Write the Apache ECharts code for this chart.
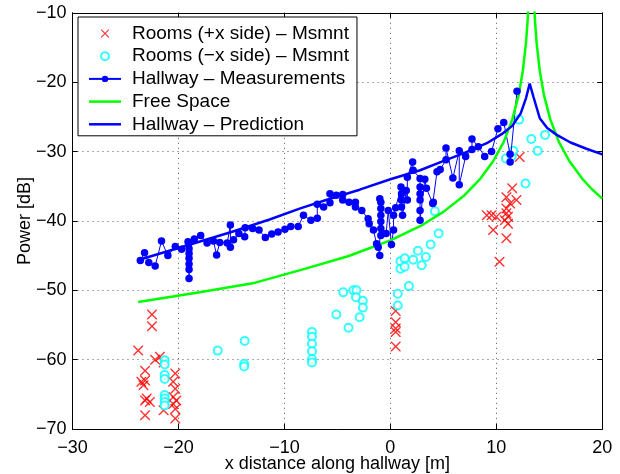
<!DOCTYPE html>
<html>
<head>
<meta charset="utf-8">
<script src="https://cdn.jsdelivr.net/npm/echarts@6/dist/echarts.min.js"></script>
<style>
    html, body { margin: 0; padding: 0; background: #fff; }
    #chart { width: 620px; height: 474px; }
</style>
</head>
<body>
<div id="chart"></div>
<script>
    // data
    const roomsPlus = [
        [-22.5, -53.5], [-22.5, -55.2], [-23.8, -58.7], [-22.2, -60.0], [-21.75, -59.6], [-21.4, -60.4],
        [-23.15, -61.6], [-23.5, -63.2], [-23.15, -63.0], [-23.3, -63.7], [-23.0, -65.6], [-23.15, -65.9],
        [-22.7, -66.1], [-23.15, -68.0], [-20.3, -62.0], [-20.5, -63.2], [-20.3, -64.2], [-20.5, -65.4],
        [-20.2, -65.9], [-20.5, -66.4], [-20.3, -67.1], [-21.4, -67.3], [-20.3, -68.5],
        [0.5, -53.0], [0.5, -54.6], [0.5, -55.5], [0.5, -56.0], [0.5, -58.1],
        [12.2, -30.8], [11.5, -35.3], [10.95, -36.6], [11.9, -37.0], [11.3, -37.5], [10.95, -38.2],
        [9.1, -39.2], [9.55, -39.2], [10.0, -39.4], [10.95, -38.9], [11.1, -39.4], [10.8, -39.9],
        [11.1, -40.4], [9.7, -41.3], [10.95, -42.5], [10.3, -45.9]
    ]

    const roomsMinus = [
        [-21.3, -60.1], [-21.3, -60.7], [-21.3, -62.2], [-21.3, -62.8], [-21.3, -65.1], [-21.3, -65.6],
        [-21.3, -66.1], [-21.3, -66.6], [-16.3, -58.7], [-13.75, -57.3], [-13.8, -60.6], [-13.8, -61.0],
        [-7.4, -56.0], [-7.4, -56.7], [-7.4, -57.7], [-7.4, -58.8], [-7.4, -59.9], [-7.4, -60.4],
        [-5.1, -53.5], [-4.45, -50.3], [-3.95, -55.4], [-3.5, -50.0], [-3.2, -50.0], [-3.25, -51.0],
        [-2.6, -51.5], [-2.6, -52.5], [-2.9, -53.9], [0.7, -50.5], [0.7, -52.2], [1.75, -49.4],
        [0.95, -45.8], [0.95, -46.9], [1.35, -45.4], [1.35, -46.6], [2.15, -45.6], [2.6, -44.3],
        [2.95, -46.4], [3.35, -45.2], [3.8, -43.4], [4.55, -41.8], [4.2, -38.6],
        [10.9, -31.0], [11.45, -30.7], [11.6, -29.9], [12.15, -25.4], [12.75, -34.6], [13.3, -28.2],
        [13.9, -29.9], [14.6, -27.6]
    ]

    const hallwayMeas = [
        [-23.6, -45.7], [-23.2, -44.6], [-22.8, -46.0], [-22.2, -46.5], [-21.6, -42.9], [-21.0, -45.0],
        [-20.3, -43.7], [-19.7, -44.1], [-19.1, -43.0], [-19.0, -44.0], [-19.0, -44.7], [-19.0, -45.4],
        [-19.0, -46.2], [-19.0, -47.0], [-19.0, -48.3], [-19.0, -43.2], [-18.5, -42.6], [-17.9, -42.1],
        [-17.3, -43.2], [-16.7, -42.9], [-16.4, -44.9], [-16.1, -43.1], [-15.4, -43.2], [-15.1, -40.6],
        [-15.1, -43.8], [-14.8, -42.7], [-14.3, -41.8], [-13.75, -42.3], [-13.7, -41.0], [-13.0, -41.1],
        [-12.4, -41.3], [-11.8, -42.4], [-11.2, -41.9], [-10.6, -41.6], [-9.95, -41.2], [-9.4, -40.8],
        [-8.7, -40.8], [-8.2, -39.2], [-7.5, -39.9], [-6.9, -39.6], [-6.9, -37.6], [-6.3, -38.0],
        [-5.7, -37.4], [-5.7, -36.1], [-5.1, -36.3], [-4.5, -36.2], [-4.5, -37.0], [-3.9, -37.3],
        [-3.3, -37.3], [-3.3, -38.0], [-2.7, -38.5], [-2.1, -39.7], [-2.0, -40.4], [-1.6, -41.3],
        [-1.3, -43.3], [-1.15, -43.8], [-1.0, -45.0], [-1.0, -36.8], [-0.9, -37.3], [-0.9, -38.2],
        [-0.9, -39.2], [-0.9, -40.1], [-0.9, -41.1], [-0.9, -42.1], [-0.4, -41.8], [-0.2, -38.5],
        [0.1, -43.4], [0.3, -41.3], [0.3, -39.2], [0.5, -38.1], [1.0, -35.1], [1.05, -36.1],
        [1.05, -37.0], [1.05, -38.0], [1.15, -39.2], [1.5, -35.6], [1.6, -37.0], [1.6, -33.7],
        [2.1, -31.5], [2.15, -32.7], [2.8, -33.9], [2.8, -35.1], [2.8, -36.1], [2.8, -37.0],
        [2.8, -38.5], [2.8, -39.9], [3.25, -34.0], [3.4, -35.3], [4.0, -37.5], [4.05, -37.3],
        [4.4, -32.9], [4.7, -32.6], [5.25, -31.2], [5.25, -29.5], [5.9, -33.8], [6.5, -29.9],
        [6.5, -34.8], [7.1, -30.7], [7.7, -29.7], [7.7, -28.2], [8.3, -29.3], [8.9, -30.7],
        [9.55, -30.0], [10.15, -26.7], [10.7, -25.8], [11.3, -30.4], [11.3, -31.5], [11.95, -21.3]
    ]

    const freeSpaceX = [-23.8, -18, -13, -8.5, -4, 0, 3, 5, 7, 8.5, 9.7, 10.7, 11.5, 12.1, 12.5, 12.8, 12.95, 13.05,
        13.55, 13.65, 13.8, 14.1, 14.5, 15.1, 15.9, 16.9, 18.1, 19.0, 20]
    const freeSpaceY = [-51.7, -50.3, -49.0, -47.1, -45.1, -42.8, -40.6, -38.7, -36.3, -33.9, -31.4, -28.6, -25.4, -21.9, -18.4, -14.3, -11.2, -8.3,
        -8.3, -11.2, -14.3, -18.4, -21.9, -25.4, -28.6, -31.4, -33.9, -35.4, -36.8]

    const predX = [-23.7, -20, -15, -11.4, -8.5, -5.7, -2.9, 0, 2.8, 5.1, 7, 9.1, 10.5, 11.5, 12.3, 12.8, 13.15,
        13.5, 14.1, 14.8, 15.7, 17, 18.5, 20]
    const predY = [-45.6, -43.9, -41.6, -39.8, -38.2, -36.8, -35.5, -34.0, -32.7, -31.3, -30.2, -28.8, -27.5, -26.3, -24.5, -22.3, -20.2,
        -22.1, -25.2, -26.6, -27.6, -28.7, -29.6, -30.4]

    const seriesNames = [
        'Rooms (+x side) \u2013 Msmnt',
        'Rooms (\u2212x side) \u2013 Msmnt',
        'Hallway \u2013 Measurements',
        'Free Space',
        'Hallway \u2013 Prediction'
    ]

    const xTicks = { min: -30, max: 20, interval: 10 }
    const yTicks = { min: -70, max: -10, interval: 10 }

    const zip = (xs, ys) => xs.map((x, i) => [x, ys[i]])
    const minus = v => String(v).replace('-', '\u2212')
    const font = 'Liberation Sans, Arial, Helvetica, sans-serif'
    const crossPath = 'path://M0,0L1,0L5,4L9,0L10,0L10,1L6,5L10,9L10,10L9,10L5,6L1,10L0,10L0,9L4,5L0,1Z'
    const barIcon = 'path://M0,0H32V2.5H0Z'

    const baseAxis = {
        type: 'value',
        axisLine: { onZero: false, lineStyle: { color: '#000', width: 1 } },
        axisTick: { inside: true, length: 5, lineStyle: { color: '#000' } }
    }

    const chart = echarts.init(document.getElementById('chart'))

    chart.setOption({
        animation: false,
        textStyle: { fontFamily: font },
        grid: { left: 72.5, right: 17.7, top: 12.8, bottom: 45, containLabel: false, outerBoundsMode: 'none' },
        legend: {
            orient: 'vertical',
            left: 78,
            top: 17,
            backgroundColor: '#fff',
            borderColor: '#000',
            borderWidth: 1,
            padding: [7, 8, 2, 10],
            itemGap: 3.7,
            itemWidth: 32,
            itemHeight: 8,
            textStyle: { fontSize: 19, color: '#000', fontFamily: font, lineHeight: 18, padding: [0, 0, 0, 6] },
            data: [
                { name: seriesNames[0], icon: crossPath },
                { name: seriesNames[1], icon: 'emptyCircle' },
                { name: seriesNames[2] },
                { name: seriesNames[3], icon: barIcon },
                { name: seriesNames[4], icon: barIcon }
            ]
        },
        xAxis: [
            Object.assign({}, baseAxis, xTicks, {
                position: 'bottom',
                name: 'x distance along hallway [m]',
                nameLocation: 'middle',
                nameGap: 26,
                nameMoveOverlap: false,
                nameTextStyle: { fontSize: 18, color: '#000', fontFamily: font },
                axisLabel: { color: '#000', fontSize: 18, margin: 10, formatter: minus },
                splitLine: { show: true, lineStyle: { color: '#555', width: 1, type: [1, 4] } }
            }),
            Object.assign({}, baseAxis, xTicks, {
                position: 'top',
                axisLabel: { show: false },
                splitLine: { show: false }
            })
        ],
        yAxis: [
            Object.assign({}, baseAxis, yTicks, {
                position: 'left',
                name: 'Power [dB]',
                nameLocation: 'middle',
                nameGap: 38,
                nameMoveOverlap: false,
                nameTextStyle: { fontSize: 18, color: '#000', fontFamily: font },
                axisLabel: { color: '#000', fontSize: 18, margin: 6, formatter: minus },
                splitLine: { show: true, lineStyle: { color: '#555', width: 1, type: [1, 4] } }
            }),
            Object.assign({}, baseAxis, yTicks, {
                position: 'right',
                axisLabel: { show: false },
                splitLine: { show: false }
            })
        ],
        series: [
            {
                name: seriesNames[0],
                type: 'scatter',
                symbol: crossPath,
                symbolSize: 10,
                itemStyle: { color: '#ff0000' },
                data: roomsPlus
            },
            {
                name: seriesNames[1],
                type: 'scatter',
                symbol: 'emptyCircle',
                symbolSize: 8,
                itemStyle: { color: '#00ffff', borderColor: '#00ffff', borderWidth: 1 },
                data: roomsMinus
            },
            {
                name: seriesNames[2],
                type: 'line',
                symbol: 'circle',
                symbolSize: 7.5,
                showSymbol: true,
                lineStyle: { color: '#0000ff', width: 1 },
                itemStyle: { color: '#0000ff' },
                data: hallwayMeas
            },
            {
                name: seriesNames[3],
                type: 'line',
                symbol: 'none',
                clip: true,
                lineStyle: { color: '#00ff00', width: 2.5 },
                itemStyle: { color: '#00ff00' },
                data: zip(freeSpaceX, freeSpaceY)
            },
            {
                name: seriesNames[4],
                type: 'line',
                symbol: 'none',
                lineStyle: { color: '#0000ff', width: 2.5 },
                itemStyle: { color: '#0000ff' },
                data: zip(predX, predY)
            }
        ]
    })
</script>
</body>
</html>
